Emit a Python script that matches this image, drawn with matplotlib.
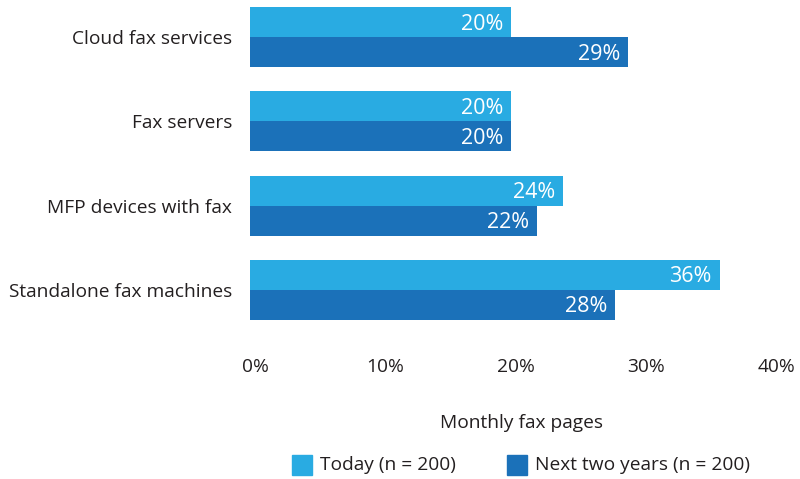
import matplotlib
matplotlib.use("Agg")
import matplotlib.pyplot as plt
from matplotlib.patches import Rectangle
from matplotlib.transforms import ScaledTranslation

plt.rcParams['font.family'] = ['Open Sans', 'DejaVu Sans']

categories = ["Cloud fax services", "Fax servers", "MFP devices with fax", "Standalone fax machines"]
today = [20, 20, 24, 36]
next_two = [29, 20, 22, 28]
series_names = ["Today (n = 200)", "Next two years (n = 200)"]
xticks = [0, 10, 20, 30, 40]
xlabel = "Monthly fax pages"

c_light = "#29ABE2"
c_dark = "#1B71B9"
txt = "#231F20"
fs = 13.8

W, H = 800, 479
fig = plt.figure(figsize=(8, 4.79), dpi=100)
ax_left, ax_right = 250, 772
ax_top, ax_bot = 0, 337
ax = fig.add_axes([ax_left / W, 1 - ax_bot / H, (ax_right - ax_left) / W, (ax_bot - ax_top) / H])

pitch = 84.3
bh = 30 / pitch
ys = list(range(len(categories)))
ax.barh([y - bh / 2 for y in ys], today, height=bh, color=c_light, linewidth=0)
ax.barh([y + bh / 2 for y in ys], next_two, height=bh, color=c_dark, linewidth=0)

pad = ScaledTranslation(-8 / 100, -2 / 100, fig.dpi_scale_trans)
for y, v in zip(ys, today):
    ax.text(v, y - bh / 2, f"{v}%", color="white", ha="right", va="center",
            fontsize=15.5, transform=ax.transData + pad)
for y, v in zip(ys, next_two):
    ax.text(v, y + bh / 2, f"{v}%", color="white", ha="right", va="center",
            fontsize=15.5, transform=ax.transData + pad)

ax.set_xlim(0, 40)
ax.set_ylim(3 + (337 - 290) / pitch, -37 / pitch)
ax.set_yticks(ys)
ax.set_yticklabels(categories, fontsize=fs, color=txt)
ax.set_xticks(xticks)
ax.set_xticklabels([f"{t}%" for t in xticks], fontsize=fs, color=txt)
ax.tick_params(axis='both', length=0)
ax.tick_params(axis='x', pad=15)
ax.tick_params(axis='y', pad=13)
off = ScaledTranslation(5 / 100, 0, fig.dpi_scale_trans)
for lbl in ax.get_xticklabels():
    lbl.set_transform(lbl.get_transform() + off)
for s in ax.spines.values():
    s.set_visible(False)

fig.text(521 / W, 1 - 423 / H, xlabel, ha="center", va="center", fontsize=fs, color=txt)

# legend
for x0, col, name in [(292, c_light, series_names[0]), (507, c_dark, series_names[1])]:
    fig.patches.append(Rectangle((x0 / W, 1 - 475 / H), 20 / W, 20 / H, color=col,
                                 transform=fig.transFigure, figure=fig))
    fig.text((x0 + 28) / W, 1 - 465 / H, name, ha="left", va="center", fontsize=fs, color=txt)

fig.savefig("out.png", dpi=100)
